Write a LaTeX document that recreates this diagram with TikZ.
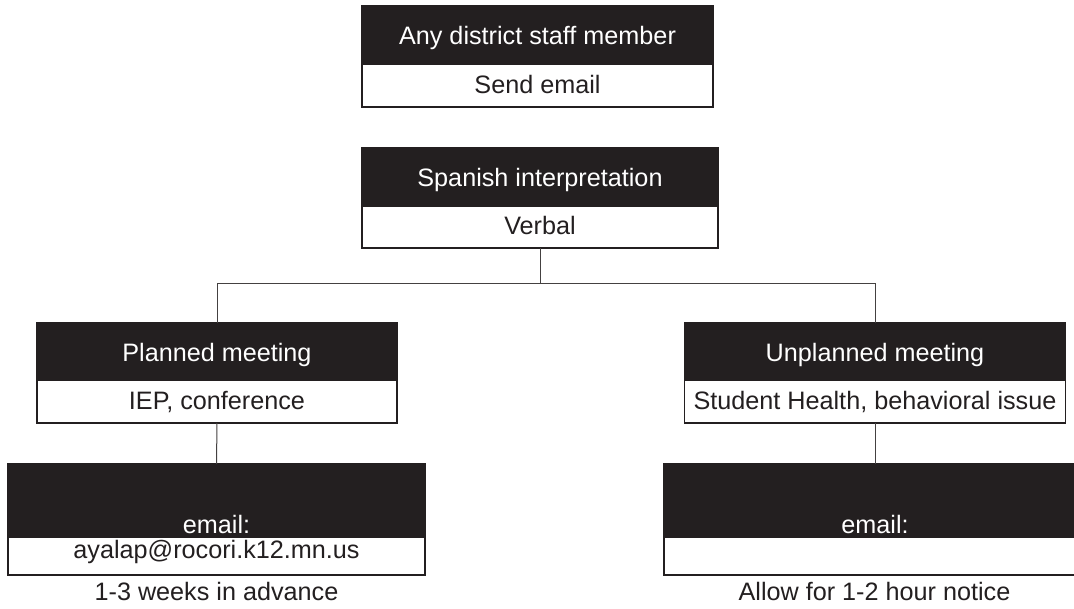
\documentclass[tikz,border=0pt]{standalone}
\usepackage{fontspec}
\setmainfont{Liberation Sans}
\definecolor{ink}{HTML}{231F20}
\begin{document}
\begin{tikzpicture}[x=1pt,y=-1pt,
  every node/.style={font=\fontsize{25.2}{30}\selectfont, inner sep=0pt, outer sep=0pt},
  head/.style={fill=ink, draw=ink, line width=1.2pt, text=white,
    minimum height=58pt, text height=20pt, text depth=0pt},
  body/.style={fill=white, draw=ink, line width=1.6pt, text=ink,
    minimum height=43pt, text height=17pt, text depth=1pt},
  link/.style={draw=ink!85, line width=1pt},
  caption/.style={text=ink, anchor=base},
]
\clip (0,0) rectangle (1074,609);
\fill[white] (0,0) rectangle (1074,609);

% who can request
\node[head, minimum width=351pt] (topH) at (537.5,35) {Any district staff member};
\node[body, minimum width=351pt] (topB) at (537.5,85.5) {Send email};

% service
\node[head, minimum width=356pt] (spH) at (540,177) {Spanish interpretation};
\node[body, minimum width=356pt, minimum height=42pt] (spB) at (540,227) {Verbal};

% meeting types
\node[head, minimum width=360pt, minimum height=57pt] (plH) at (217,351.5) {Planned meeting};
\node[body, minimum width=360pt] (plB) at (217,401.5) {IEP, conference};
\node[head, minimum width=381pt, minimum height=57pt] (unH) at (875,351.5) {Unplanned meeting};
\node[body, minimum width=381pt] (unB) at (875,401.5) {Student Health, behavioral issue};

% contact boxes
\node[head, minimum width=417pt, minimum height=73pt, text height=66pt, text depth=1pt]
  (emLH) at (216.5,500.5) {email:};
\node[body, minimum width=417pt, minimum height=38pt, text height=12pt, text depth=8pt]
  (emLB) at (216.5,556) {ayalap@rocori.k12.mn.us};
\node[head, minimum width=422pt, minimum height=73pt, text height=66pt, text depth=1pt]
  (emRH) at (875,500.5) {email:};
\node[body, minimum width=422pt, minimum height=38pt, text height=12pt, text depth=8pt]
  (emRB) at (875,556) {};

% notice periods
\node[caption] (capL) at (216.5,600) {1-3 weeks in advance};
\node[caption] (capR) at (874.5,600) {Allow for 1-2 hour notice};

% connectors
\coordinate (split) at (540,284);
\draw[link] (spB.south) -- (split);
\draw[link] (split) -| (plH.north);
\draw[link] (split) -| (unH.north);
\draw[link] (plB.south) -- (emLH.north);
\draw[link] (unB.south) -- (emRH.north);
\end{tikzpicture}
\end{document}
